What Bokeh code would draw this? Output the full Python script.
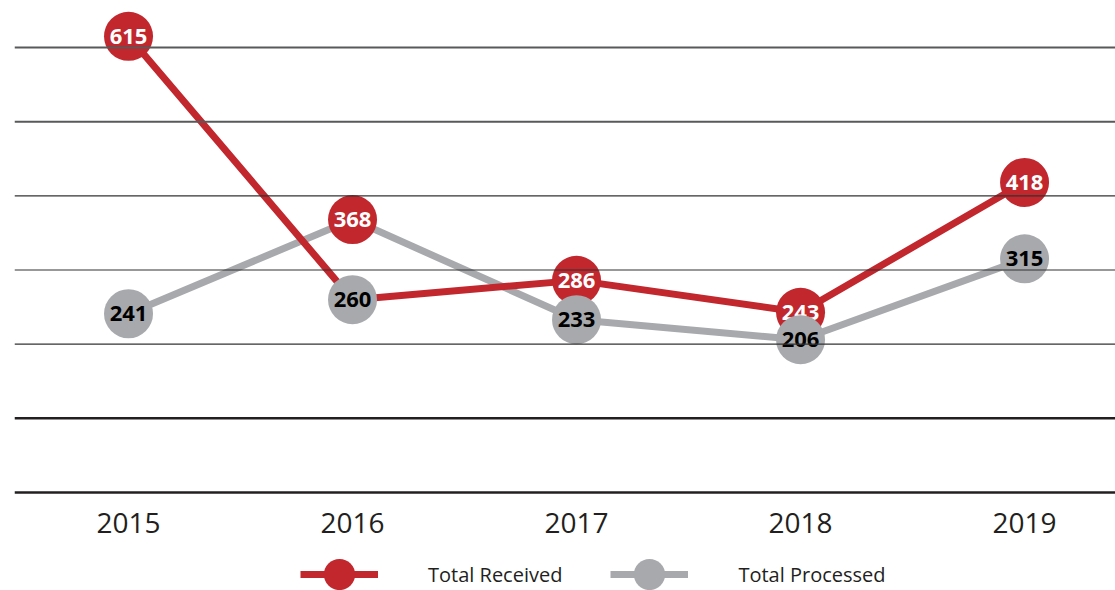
from bokeh.plotting import figure
from bokeh.models import Range1d, Span, Legend, LegendItem, ColumnDataSource
from bokeh.core.properties import value
from bokeh.embed import file_html
from bokeh.resources import INLINE

# ---- data ----
years = [2015, 2016, 2017, 2018, 2019]
year_labels = ["2015", "2016", "2017", "2018", "2019"]
received = [615, 368, 286, 243, 418]
processed = [241, 260, 233, 206, 315]
# the connecting lines as drawn in the original (swapped at 2016)
received_line = [615, 260, 286, 243, 418]
processed_line = [241, 368, 233, 206, 315]
grid_values = [0, 100, 200, 300, 400, 500, 600]

RED = "#C1272D"
GREY = "#A7A9AC"
FONT = "Open Sans"

p = figure(width=1115, height=590, output_backend="svg", toolbar_location=None,
           x_range=Range1d(2014.491, 2019.406), y_range=Range1d(-132.1, 663.3),
           min_border_left=14, min_border_right=0, min_border_top=0, min_border_bottom=0)
p.xaxis.visible = False
p.yaxis.visible = False
p.xgrid.visible = False
p.ygrid.visible = False
p.outline_line_color = None
p.background_fill_color = "white"
p.border_fill_color = "white"

grid_style = {
    0: ("#231F20", 2.5), 100: ("#231F20", 2.5), 200: ("#333333", 1.2),
    300: ("#333333", 1.2), 400: ("#333333", 1.2), 500: ("#58595B", 2.0),
    600: ("#58595B", 2.0),
}
for g in grid_values:
    c, w = grid_style[g]
    p.add_layout(Span(location=g, dimension="width", line_color=c, line_width=w))

# year labels under the baseline
p.text(x=years, y=[0] * len(years), text=year_labels, y_offset=30,
       text_align="center", text_baseline="middle", text_font=value(FONT),
       text_font_size="28px", text_color="#231F20")

gl = p.line(years, processed_line, line_color=GREY, line_width=7)
rl = p.line(years, received_line, line_color=RED, line_width=7)

rsrc = ColumnDataSource(dict(x=years, y=received, t=[str(v) for v in received]))
gsrc = ColumnDataSource(dict(x=years, y=processed, t=[str(v) for v in processed]))

rs = p.scatter("x", "y", source=rsrc, size=49, fill_color=RED, line_color=None)
p.text("x", "y", text="t", source=rsrc, text_align="center", text_baseline="middle",
       text_font=value(FONT), text_font_style="bold", text_font_size="22px",
       text_color="white")
gs = p.scatter("x", "y", source=gsrc, size=49, fill_color=GREY, line_color=None)
p.text("x", "y", text="t", source=gsrc, text_align="center", text_baseline="middle",
       text_font=value(FONT), text_font_style="bold", text_font_size="22px",
       text_color="black")

legend = Legend(items=[LegendItem(label="Total Received", renderers=[rl, rs]),
                       LegendItem(label="Total Processed", renderers=[gl, gs])],
                orientation="horizontal", location=(286, -23),
                glyph_width=78, glyph_height=78, label_standoff=50, spacing=48,
                padding=0, margin=0, border_line_color=None,
                background_fill_alpha=0, label_text_font=FONT,
                label_text_font_size="20px", label_text_color="#231F20")
p.add_layout(legend, "center")

open("out.html", "w").write(file_html(p, INLINE))
